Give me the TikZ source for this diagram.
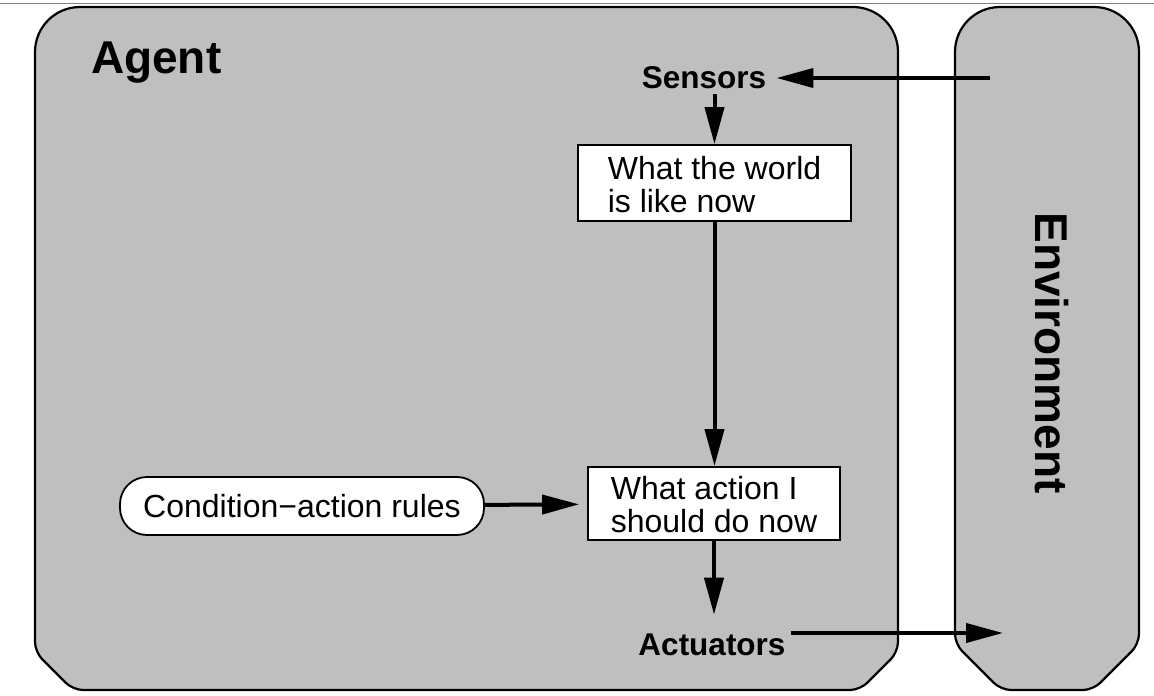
\documentclass[tikz,border=0pt]{standalone}
\usepackage{fontspec}
\setmainfont{Liberation Sans}
\usetikzlibrary{arrows.meta}
\usetikzlibrary{positioning}
\definecolor{panelgray}{RGB}{191,191,191}
\tikzset{
	panel/.style = {draw=black, line width=2.2pt, fill=panelgray},% big frame
	title/.style = {font=\fontsize{46}{52}\selectfont\bfseries, inner sep=0pt},% frame title
	port/.style = {font=\fontsize{31.5}{36}\selectfont\bfseries},% sensors, actuators
	state/.style = {rectangle, draw=black, fill=white, line width=1.8pt,
		align=left, text height=59pt, font=\fontsize{32}{33}\selectfont},% white box
	rules/.style = {rectangle, rounded corners=27pt, draw=black, fill=white,
		line width=1.8pt, font=\fontsize{32}{36}\selectfont}% rule box
}
\begin{document}
\begin{tikzpicture}[x=1pt,y=-1pt,->,>={Triangle[length=37pt,width=19pt]},
		line width=4pt]
	\useasboundingbox (0,0) rectangle (1154,696);
	\draw[-, line width=1pt, gray] (0,3) -- (1154,3);
	% frames
	\draw[-, panel] (35,348) [rounded corners=45pt] -- (35,7) -- (898,7) -- (898,300)
		[rounded corners=10pt] -- (898,652) -- (860,690) -- (73,690) -- (35,652) -- cycle;
	\draw[-, panel] (955,348) [rounded corners=45pt] -- (955,7) -- (1139,7) -- (1139,300)
		[rounded corners=10pt] -- (1139,644) -- (1093,690) -- (1001,690) -- (955,644) -- cycle;
	\node[title, anchor=base west] (agentlbl) at (89,73) {Agent};
	\node[title, rotate=-90] (envlbl) at (1052,353) {Environment};
	\node[port] (sensors) at (704,78) {Sensors};
	\node[state, minimum width=273pt, minimum height=76pt] (world) at (714.5,183)
		{What the world\\is like now};
	\node[state, minimum width=252pt, minimum height=73pt] (action) at (714,503.5)
		{What action I\\should do now};
	\node[rules, minimum width=364pt, minimum height=58pt] (rules) at (302,506)
		{Condition−action rules};
	\node[port] (actuators) at (712,645) {Actuators};
	\coordinate (envin) at (990,78);
	\coordinate (envout) at (1003,633);
	
	\draw[shorten >=5pt] (envin) -- (sensors);
	\draw (world |- sensors.south) -- (world);
	\draw (world.south) -- (world.south |- action.north);
	\draw[shorten >=8pt] (rules) -- (action);
	\draw[shorten >=14pt] (action.south) -- (action.south |- actuators.north);
	\draw (actuators.east |- envout) -- (envout);
\end{tikzpicture}
\end{document}
